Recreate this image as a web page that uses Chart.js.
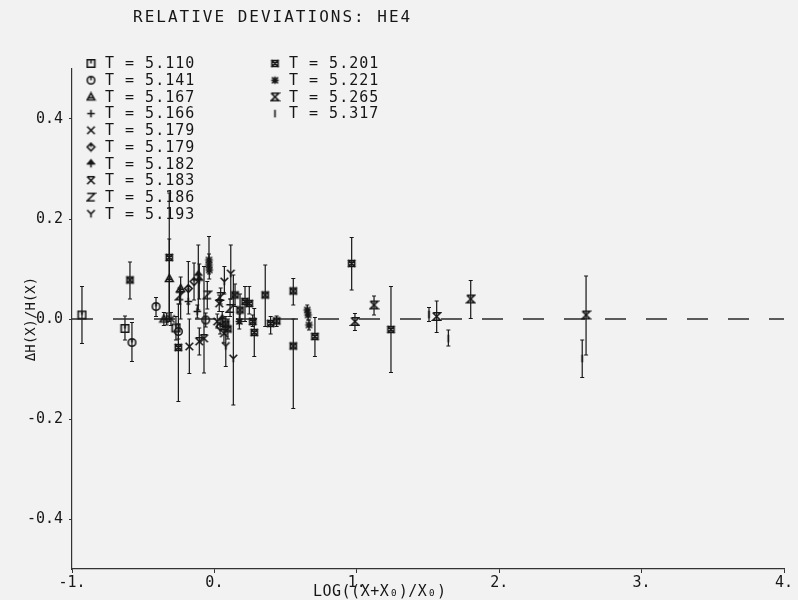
<!DOCTYPE html>
<html>
<head>
<meta charset="utf-8">
<script src="https://cdn.jsdelivr.net/npm/chart.js@4"></script>
<style>
  body { margin: 0; background: #f2f2f2; }
  #wrap { width: 798px; height: 600px; }
</style>
</head>
<body>
<div id="wrap"><canvas id="devChart" width="798" height="600"></canvas></div>
<script>
// Temperatures (legend labels) and the marker used for each run
const temps = ['5.110', '5.141', '5.167', '5.166', '5.179', '5.179', '5.182',
               '5.183', '5.186', '5.193', '5.201', '5.221', '5.265', '5.317'];
const markerKinds = ['sqTick', 'circTick', 'tri', 'plus', 'cross', 'diamond', 'arrow',
                     'xbar', 'zed', 'why', 'sqX', 'star', 'hourglass', 'eye'];

// Each point: [log((x+x0)/x0), dH/H, lower error end, upper error end]
const s5110 = [[-0.93, 0.008, -0.049, 0.065], [-0.628, -0.019, -0.042, 0.006], [-0.27, -0.018, -0.042, 0.005]];
const s5141 = [[-0.579, -0.047, -0.085, -0.007], [-0.41, 0.025, 0.005, 0.043], [-0.253, -0.025, -0.040, -0.010],
               [-0.061, -0.002, -0.016, 0.012]];
const s5167 = [[-0.317, 0.081, 0.000, 0.160], [-0.237, 0.061, 0.000, 0.084], [-0.355, 0.000, -0.013, 0.013]];
const s5166 = [[-0.335, 0.000, -0.012, 0.012], [-0.183, 0.035, 0.010, 0.060], [-0.120, 0.015, 0.002, 0.028]];
const s5179a = [[-0.305, 0.000, -0.013, 0.013], [-0.176, -0.055, -0.109, 0.000], [0.020, -0.005, -0.018, 0.010]];
const s5179b = [[-0.183, 0.061, 0.030, 0.115], [-0.143, 0.075, 0.038, 0.112], [0.040, -0.015, -0.030, 0.000]];
const s5182 = [[-0.113, 0.088, 0.018, 0.148], [-0.106, 0.078, 0.040, 0.110], [0.055, 0.000, -0.015, 0.015]];
const s5183 = [[-0.106, -0.045, -0.072, -0.018], [-0.073, -0.039, -0.108, 0.105], [0.067, -0.029, -0.048, -0.005],
               [0.034, 0.031, 0.015, 0.048]];
const s5186 = [[-0.245, 0.046, 0.030, 0.062], [-0.050, 0.048, 0.020, 0.075], [0.044, 0.045, 0.030, 0.062],
               [0.110, 0.021, 0.005, 0.040]];
const s5193 = [[0.070, 0.075, 0.050, 0.105], [0.080, -0.054, -0.095, -0.030], [0.115, 0.091, 0.040, 0.148],
               [0.133, -0.079, -0.172, 0.088]];
const s5201 = [[-0.593, 0.078, 0.040, 0.114], [-0.317, 0.123, -0.005, 0.252], [-0.253, -0.057, -0.165, 0.030],
               [0.080, -0.010, -0.025, 0.005], [0.095, -0.020, -0.040, 0.000], [0.145, 0.048, 0.025, 0.070],
               [0.180, 0.018, -0.002, 0.050], [0.215, 0.035, -0.005, 0.065], [0.245, 0.031, 0.010, 0.065],
               [0.269, -0.005, -0.015, 0.008], [0.280, -0.027, -0.075, 0.021], [0.357, 0.048, -0.015, 0.108],
               [0.395, -0.009, -0.030, 0.005], [0.437, -0.004, -0.015, 0.006], [0.554, 0.056, 0.028, 0.081],
               [0.554, -0.054, -0.179, 0.000], [0.706, -0.035, -0.075, 0.003], [0.964, 0.111, 0.058, 0.163],
               [1.240, -0.021, -0.107, 0.065]];
const s5221 = [[-0.038, 0.118, 0.095, 0.165], [-0.038, 0.108, 0.090, 0.130], [-0.036, 0.098, 0.080, 0.115],
               [0.175, -0.005, -0.020, 0.010], [0.652, 0.018, 0.008, 0.028], [0.658, 0.008, -0.002, 0.018],
               [0.664, -0.012, -0.022, -0.002]];
const s5265 = [[0.987, -0.005, -0.023, 0.011], [1.121, 0.028, 0.008, 0.046], [1.561, 0.005, -0.027, 0.036],
               [1.800, 0.040, 0.001, 0.077], [2.610, 0.008, -0.072, 0.086]];
const s5317 = [[1.507, 0.009, -0.005, 0.023], [1.643, -0.039, -0.054, -0.022], [2.583, -0.079, -0.117, -0.042]];

const allSeries = [s5110, s5141, s5167, s5166, s5179a, s5179b, s5182,
                   s5183, s5186, s5193, s5201, s5221, s5265, s5317];

// Axis ticks
const xTicks = [-1, 0, 1, 2, 3, 4];
const xTickLabels = ['-1.', '0.', '1.', '2.', '3.', '4.'];
const yTicks = [-0.4, -0.2, 0, 0.2, 0.4];
const yTickLabels = ['-0.4', '-0.2', '0.0', '0.2', '0.4'];

const INK = '#161616';
const FONT = "'DejaVu Sans Mono', monospace";

// small plotter-like symbols drawn on offscreen canvases
function makeMarker(kind) {
    const c = document.createElement('canvas');
    c.width = 11; c.height = 11;
    const g = c.getContext('2d');
    g.strokeStyle = INK; g.fillStyle = INK; g.lineWidth = 1.6;
    const m = 5.5, r = 3.8;
    g.beginPath();
    switch (kind) {
        case 'sqTick':
            g.rect(m - r, m - r, 2 * r, 2 * r); g.moveTo(m, m - r); g.lineTo(m, m); break;
        case 'circTick':
            g.arc(m, m, r, 0, Math.PI * 2); g.moveTo(m, m - r); g.lineTo(m, m); break;
        case 'tri':
            g.moveTo(m, m - r); g.lineTo(m + r, m + r * 0.8); g.lineTo(m - r, m + r * 0.8); g.closePath();
            g.moveTo(m - r * 0.5, m + r * 0.2); g.lineTo(m + r * 0.5, m + r * 0.2); break;
        case 'plus':
            g.moveTo(m - r, m); g.lineTo(m + r, m); g.moveTo(m, m - r); g.lineTo(m, m + r); break;
        case 'cross':
            g.moveTo(m - r, m - r); g.lineTo(m + r, m + r); g.moveTo(m + r, m - r); g.lineTo(m - r, m + r); break;
        case 'diamond':
            g.moveTo(m, m - r); g.lineTo(m + r, m); g.lineTo(m, m + r); g.lineTo(m - r, m); g.closePath();
            g.moveTo(m, m - r); g.lineTo(m, m); break;
        case 'arrow':
            g.moveTo(m, m - r); g.lineTo(m, m + r); g.moveTo(m - r, m); g.lineTo(m + r, m);
            g.stroke(); g.beginPath();
            g.moveTo(m, m - r); g.lineTo(m + r * 0.8, m); g.lineTo(m - r * 0.8, m); g.closePath(); g.fill();
            break;
        case 'xbar':
            g.moveTo(m - r, m - r); g.lineTo(m + r, m + r); g.moveTo(m + r, m - r); g.lineTo(m - r, m + r);
            g.moveTo(m - r, m - r); g.lineTo(m + r, m - r); break;
        case 'zed':
            g.moveTo(m - r, m - r); g.lineTo(m + r, m - r); g.lineTo(m - r, m + r); g.lineTo(m + r, m + r); break;
        case 'why':
            g.moveTo(m - r, m - r); g.lineTo(m, m); g.lineTo(m + r, m - r); g.moveTo(m, m); g.lineTo(m, m + r); break;
        case 'sqX':
            g.rect(m - r * 0.8, m - r * 0.8, 1.6 * r, 1.6 * r);
            g.moveTo(m - r, m - r); g.lineTo(m + r, m + r); g.moveTo(m + r, m - r); g.lineTo(m - r, m + r); break;
        case 'star':
            g.moveTo(m - r, m); g.lineTo(m + r, m); g.moveTo(m, m - r); g.lineTo(m, m + r);
            g.moveTo(m - r * 0.8, m - r * 0.8); g.lineTo(m + r * 0.8, m + r * 0.8);
            g.moveTo(m + r * 0.8, m - r * 0.8); g.lineTo(m - r * 0.8, m + r * 0.8); break;
        case 'hourglass':
            g.moveTo(m - r, m - r); g.lineTo(m + r, m - r); g.lineTo(m - r, m + r); g.lineTo(m + r, m + r);
            g.lineTo(m - r, m - r); break;
        case 'eye':
            g.moveTo(m, m - r); g.lineTo(m, m + r); break;
    }
    g.stroke();
    return c;
}

const markers = markerKinds.map(makeMarker);

// Error bars through the chart's scales
const errorBars = {
    id: 'errorBars',
    beforeDatasetsDraw(chart) {
        const ctx = chart.ctx;
        const xs = chart.scales.x, ys = chart.scales.y;
        ctx.save();
        ctx.strokeStyle = INK;
        ctx.lineWidth = 1.2;
        allSeries.forEach(series => {
            series.forEach(p => {
                const px = xs.getPixelForValue(p[0]);
                const lo = ys.getPixelForValue(p[2]);
                const hi = ys.getPixelForValue(p[3]);
                ctx.beginPath();
                ctx.moveTo(px, lo); ctx.lineTo(px, hi);
                ctx.moveTo(px - 2, lo); ctx.lineTo(px + 2, lo);
                ctx.moveTo(px - 2, hi); ctx.lineTo(px + 2, hi);
                ctx.stroke();
            });
        });
        ctx.restore();
    }
};

// Title, legend and x title written like the plotter did
const plotterText = {
    id: 'plotterText',
    afterDraw(chart) {
        const ctx = chart.ctx;
        ctx.save();
        ctx.fillStyle = INK;
        ctx.textBaseline = 'middle';
        ctx.textAlign = 'left';

        ctx.font = '16px ' + FONT;
        ctx.letterSpacing = '2px';
        ctx.fillText('RELATIVE DEVIATIONS: HE4', 133, 18);

        ctx.font = '15px ' + FONT;
        ctx.letterSpacing = '1px';
        temps.forEach((t, i) => {
            const col = i < 10 ? 0 : 1;
            const row = i < 10 ? i : i - 10;
            const sx = col ? 275 : 91;
            const y = 63.5 + row * 16.7;
            ctx.drawImage(markers[i], sx - 5.5, y - 5.5);
            ctx.fillText('T = ' + t, sx + 14, y + 1);
        });

        ctx.letterSpacing = '0.5px';
        ctx.fillText('LOG((X+X\u2080)/X\u2080)', 313, 592);
        ctx.restore();
    }
};

const datasets = allSeries.map((series, i) => ({
    label: 'T = ' + temps[i],
    data: series.map(p => ({ x: p[0], y: p[1] })),
    pointStyle: markers[i],
    pointRadius: 4,
    pointHoverRadius: 4
}));

// dashed zero line
datasets.push({
    label: 'zero',
    type: 'line',
    data: [{ x: -1, y: 0 }, { x: 4, y: 0 }],
    borderColor: '#2a2a2a',
    borderWidth: 1.3,
    borderDash: [21, 20],
    pointRadius: 0,
    fill: false
});

const ctx = document.getElementById('devChart').getContext('2d');
const devChart = new Chart(ctx, {
    type: 'scatter',
    data: { datasets: datasets },
    plugins: [errorBars, plotterText],
    options: {
        responsive: false,
        animation: false,
        layout: { padding: { top: 69, right: 14, left: 0, bottom: 0 } },
        plugins: {
            legend: { display: false },
            tooltip: { enabled: false },
            title: { display: false }
        },
        scales: {
            x: {
                type: 'linear',
                position: 'bottom',
                min: -1,
                max: 4,
                afterBuildTicks: scale => { scale.ticks = xTicks.map(v => ({ value: v })); },
                afterFit: scale => { scale.height = 31; },
                grid: { drawOnChartArea: false, tickLength: 4, color: '#333' },
                border: { color: '#333', width: 1.2 },
                ticks: {
                    autoSkip: false,
                    maxRotation: 0,
                    padding: 1,
                    color: INK,
                    font: { family: FONT, size: 15 },
                    callback: v => xTickLabels[xTicks.indexOf(v)]
                }
            },
            y: {
                type: 'linear',
                min: -0.5,
                max: 0.5,
                afterBuildTicks: scale => { scale.ticks = yTicks.map(v => ({ value: v })); },
                afterFit: scale => { scale.width = 72; },
                grid: { drawOnChartArea: false, tickLength: 3, color: '#333' },
                border: { color: '#333', width: 1.2 },
                ticks: {
                    padding: 6,
                    color: INK,
                    font: { family: FONT, size: 15 },
                    callback: v => yTickLabels[yTicks.indexOf(v)]
                },
                title: {
                    display: true,
                    text: '\u0394H(X)/H(X)',
                    color: INK,
                    font: { family: FONT, size: 14 },
                    padding: { top: 23, bottom: 0 }
                }
            }
        }
    }
});
</script>
</body>
</html>
